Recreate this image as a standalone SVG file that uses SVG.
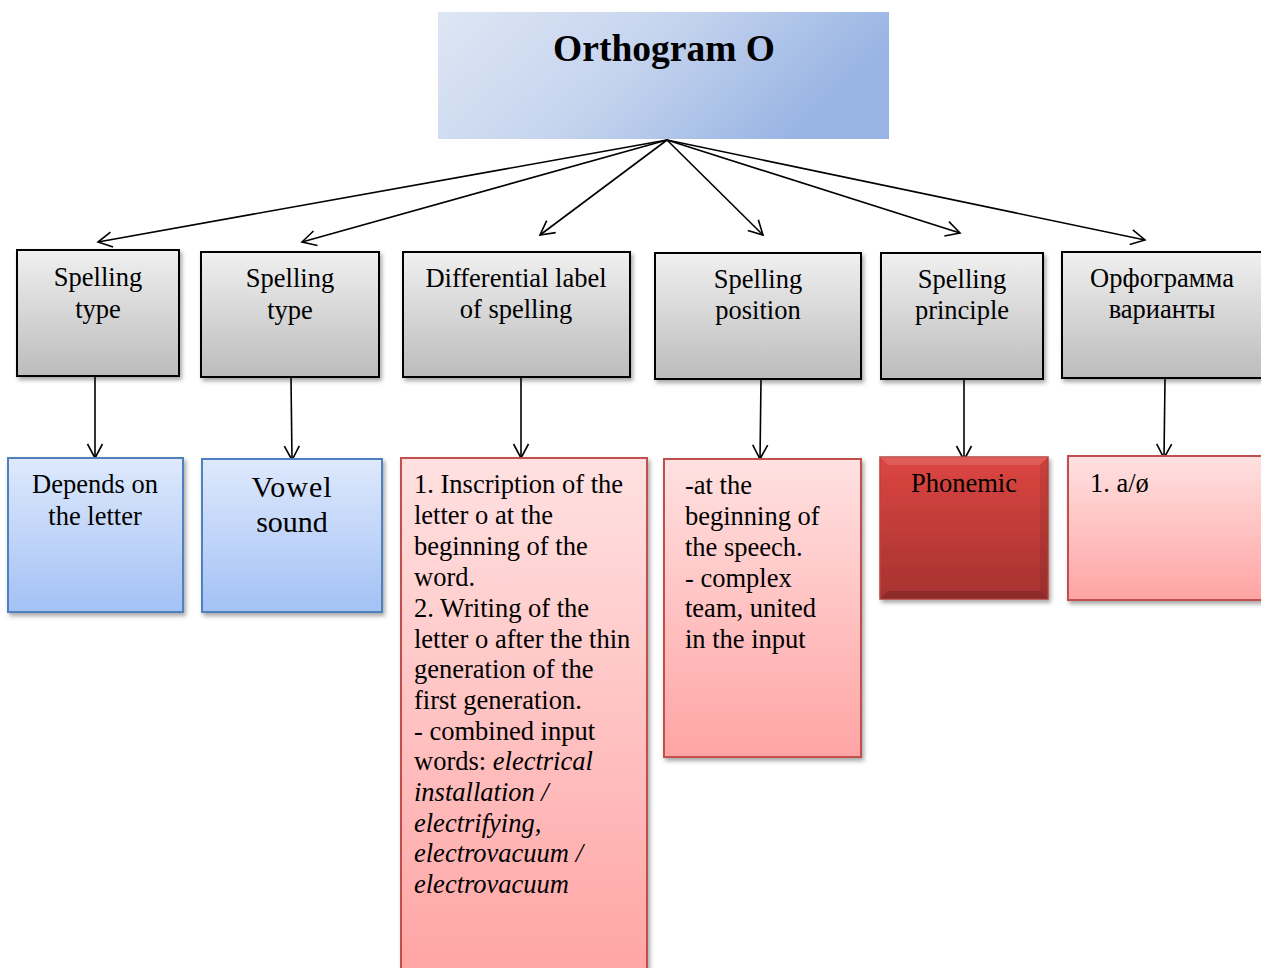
<svg xmlns="http://www.w3.org/2000/svg" width="1261" height="968" viewBox="0 0 1261 968">
<style>
text{font-family:"Liberation Serif","Times New Roman",serif;fill:#000}
.t{font-size:26.5px}
.c{text-anchor:middle}
.gray{fill:url(#gGray);stroke:#000;stroke-width:2}
.blue{fill:url(#gBlue);stroke:#4f81bd;stroke-width:2}
.pink{fill:url(#gPink);stroke:#c0504d;stroke-width:2}
.conn{stroke:#000;stroke-width:1.6;fill:none;marker-end:url(#arr)}
</style>
<defs>
<linearGradient id="gTop" x1="0" y1="0" x2="1" y2="0.3">
<stop offset="0" stop-color="#dee6f4"/><stop offset="0.5" stop-color="#c5d4ee"/><stop offset="1" stop-color="#98b4e3"/>
</linearGradient>
<linearGradient id="gGray" x1="0" y1="0" x2="0" y2="1">
<stop offset="0" stop-color="#f0f0f0"/><stop offset="1" stop-color="#bcbcbc"/>
</linearGradient>
<linearGradient id="gBlue" x1="0" y1="0" x2="0" y2="1">
<stop offset="0" stop-color="#dee9fc"/><stop offset="1" stop-color="#a3c1f5"/>
</linearGradient>
<linearGradient id="gPink" x1="0" y1="0" x2="0" y2="1">
<stop offset="0" stop-color="#ffe1e1"/><stop offset="1" stop-color="#ffa4a4"/>
</linearGradient>
<linearGradient id="gRed" x1="0" y1="0" x2="0" y2="1">
<stop offset="0" stop-color="#dc4641"/><stop offset="1" stop-color="#a63230"/>
</linearGradient>
<filter id="sh" x="-10%" y="-10%" width="130%" height="130%">
<feDropShadow dx="2" dy="3" stdDeviation="2" flood-color="#000" flood-opacity="0.35"/>
</filter>
<marker id="arr" markerUnits="userSpaceOnUse" viewBox="-1 -9 17 18" markerWidth="17" markerHeight="18" refX="14" refY="0" orient="auto">
<path d="M0,-7.5 L14,0 L0,7.5" fill="none" stroke="#000" stroke-width="1.6"/>
</marker>
</defs>
<rect width="1261" height="968" fill="#fff"/>

<g id="connectors">
<line class="conn" x1="667" y1="140" x2="98" y2="242"/>
<line class="conn" x1="667" y1="140" x2="302" y2="242"/>
<line class="conn" x1="667" y1="140" x2="540" y2="235"/>
<line class="conn" x1="667" y1="140" x2="763" y2="235"/>
<line class="conn" x1="667" y1="140" x2="960" y2="233"/>
<line class="conn" x1="667" y1="140" x2="1145" y2="240"/>
<line class="conn" x1="95" y1="377" x2="95" y2="458"/>
<line class="conn" x1="291" y1="378" x2="292" y2="460"/>
<line class="conn" x1="521" y1="378" x2="521" y2="458"/>
<line class="conn" x1="761" y1="379" x2="760" y2="459"/>
<line class="conn" x1="964" y1="379" x2="964" y2="460"/>
<line class="conn" x1="1165" y1="379" x2="1164" y2="458"/>
</g>

<g id="root">
<rect x="438" y="12" width="451" height="127" fill="url(#gTop)"/>
<text x="664" y="61" class="c" font-size="37.5" font-weight="bold">Orthogram O</text>
</g>

<g id="n1">
<rect class="gray" x="17" y="250" width="162" height="126" filter="url(#sh)"/>
<text class="t c" x="98" y="286">Spelling</text>
<text class="t c" x="98" y="318">type</text>
</g>
<g id="n2">
<rect class="gray" x="201" y="252" width="178" height="125" filter="url(#sh)"/>
<text class="t c" x="290" y="287">Spelling</text>
<text class="t c" x="290" y="319">type</text>
</g>
<g id="n3">
<rect class="gray" x="403" y="252" width="227" height="125" filter="url(#sh)"/>
<text class="t c" x="516" y="287">Differential label</text>
<text class="t c" x="516" y="318">of spelling</text>
</g>
<g id="n4">
<rect class="gray" x="655" y="253" width="206" height="126" filter="url(#sh)"/>
<text class="t c" x="758" y="288">Spelling</text>
<text class="t c" x="758" y="319">position</text>
</g>
<g id="n5">
<rect class="gray" x="881" y="253" width="162" height="126" filter="url(#sh)"/>
<text class="t c" x="962" y="288">Spelling</text>
<text class="t c" x="962" y="319">principle</text>
</g>
<g id="n6">
<rect class="gray" x="1062" y="252" width="205" height="126" filter="url(#sh)"/>
<text class="t c" x="1162" y="287">Орфограмма</text>
<text class="t c" x="1162" y="318">варианты</text>
</g>

<g id="c1">
<rect class="blue" x="8" y="458" width="175" height="154" filter="url(#sh)"/>
<text class="t c" x="95" y="493">Depends on</text>
<text class="t c" x="95" y="525">the letter</text>
</g>
<g id="c2">
<rect class="blue" x="202" y="459" width="180" height="153" filter="url(#sh)"/>
<text class="c" font-size="30" x="292" y="497" letter-spacing="1">Vowel</text>
<text class="c" font-size="30" x="292" y="532">sound</text>
</g>
<g id="c3">
<rect class="pink" x="401" y="458" width="246" height="520" filter="url(#sh)"/>
<text class="t" x="414" y="493">1. Inscription of the</text>
<text class="t" x="414" y="524">letter o at the</text>
<text class="t" x="414" y="555">beginning of the</text>
<text class="t" x="414" y="586">word.</text>
<text class="t" x="414" y="617">2. Writing of the</text>
<text class="t" x="414" y="648">letter o after the thin</text>
<text class="t" x="414" y="678">generation of the</text>
<text class="t" x="414" y="709">first generation.</text>
<text class="t" x="414" y="740">- combined input</text>
<text class="t" x="414" y="770">words: <tspan font-style="italic">electrical</tspan></text>
<text class="t" x="414" y="801" font-style="italic">installation /</text>
<text class="t" x="414" y="832" font-style="italic">electrifying,</text>
<text class="t" x="414" y="862" font-style="italic">electrovacuum /</text>
<text class="t" x="414" y="893" font-style="italic">electrovacuum</text>
</g>
<g id="c4">
<rect class="pink" x="664" y="459" width="197" height="298" filter="url(#sh)"/>
<text class="t" x="685" y="494">-at the</text>
<text class="t" x="685" y="525">beginning of</text>
<text class="t" x="685" y="556">the speech.</text>
<text class="t" x="685" y="587">- complex</text>
<text class="t" x="685" y="617">team, united</text>
<text class="t" x="685" y="648">in the input</text>
</g>
<g id="c5">
<rect x="880" y="457" width="168" height="142" fill="url(#gRed)" stroke="#b84440" stroke-width="1.5" filter="url(#sh)"/>
<path d="M880,457 L888,465 L1040,465 L1048,457 Z" fill="#fff" opacity="0.12"/>
<path d="M880,599 L888,591 L1040,591 L1048,599 Z" fill="#000" opacity="0.15"/>
<path d="M1048,457 L1040,465 L1040,591 L1048,599 Z" fill="#000" opacity="0.08"/>
<text class="t c" x="964" y="492">Phonemic</text>
</g>
<g id="c6">
<rect class="pink" x="1068" y="456" width="200" height="144" filter="url(#sh)"/>
<text class="t" x="1090" y="492">1. a/ø</text>
</g>
</svg>
